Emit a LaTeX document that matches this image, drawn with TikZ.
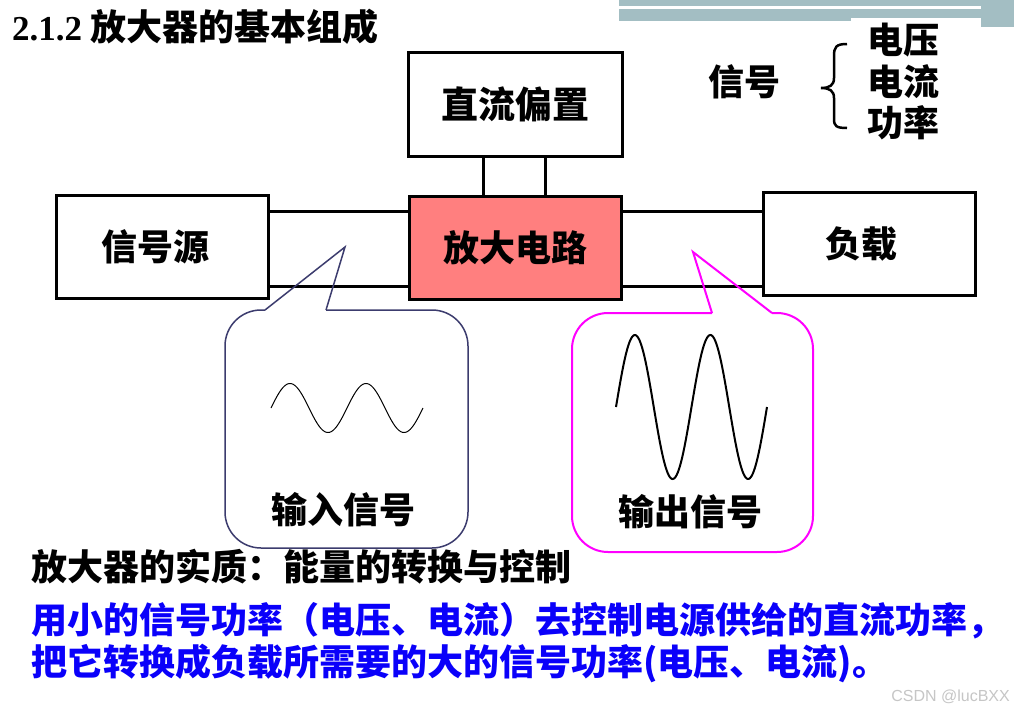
\documentclass[tikz,border=0pt]{standalone}
\usepackage{fontspec}
\setmainfont{Liberation Serif}
\newfontfamily\cjk{Noto Sans CJK SC}
\newfontfamily\wmfont{Liberation Sans}
\usepackage{xcolor}
\usepackage{tikz}

\definecolor{ampred}{RGB}{255,127,127}
\definecolor{barblue}{RGB}{163,190,195}
\definecolor{callnavy}{RGB}{60,60,110}
\definecolor{callpink}{RGB}{255,0,255}
\definecolor{noteblue}{RGB}{10,0,250}
\newcommand{\cnbig}{\fontsize{36}{40}\selectfont\cjk\bfseries}

\begin{document}
\begin{tikzpicture}[x=1pt, y=-1pt,
    blk/.style={draw, line width=3pt, minimum width=212pt, minimum height=103pt, inner sep=0pt, font=\cnbig},
    wire/.style={line width=3pt},
    callin/.style={draw=callnavy, line width=1.5pt},
    callout/.style={draw=callpink, line width=2pt},
    txt/.style={inner sep=0pt, font=\cnbig}]
  \fill[white] (0,0) rectangle (1014,715);
  \useasboundingbox (0,0) rectangle (1014,715);

  % Header bars
  \fill[barblue] (619,0) rectangle (1014,21);
  \fill[barblue] (981,0) rectangle (1014,27);
  \fill[white] (619,6) rectangle (981,9);
  \fill[white] (851,18) rectangle (981,22);

  % Title
  \node[anchor=west, inner sep=0pt] (title) at (12,27)
    {\fontsize{35}{40}\selectfont\bfseries 2.1.2 {\cjk\fontsize{36}{40}\selectfont 放大器的基本组成}};

  % Blocks
  \node[blk, minimum width=214pt, minimum height=104pt, font=\cnbig\fontsize{37}{40}\selectfont] (bias) at (515,104) {直流偏置};
  \node[blk] (src) at (162.5,246.5) {\hspace*{-15pt}信号源};
  \node[blk, fill=ampred] (amp) at (515,248) {放大电路};
  \node[blk] (load) at (869.5,244) {\hspace*{-16pt}负载};

  % Wires
  \coordinate (ampTL) at ([yshift=-16pt]amp.north west);
  \coordinate (ampBL) at ([yshift=14.5pt]amp.south west);
  \coordinate (ampTR) at ([yshift=-16pt]amp.north east);
  \coordinate (ampBR) at ([yshift=14.5pt]amp.south east);
  \draw[wire] (ampTL -| src.east) -- (ampTL);
  \draw[wire] (ampBL -| src.east) -- (ampBL);
  \draw[wire] (ampTR) -- (ampTR -| load.west);
  \draw[wire] (ampBR) -- (ampBR -| load.west);
  \coordinate (biasL) at ([xshift=-32pt]bias.south);
  \coordinate (biasR) at ([xshift=30pt]bias.south);
  \draw[wire] (biasL) -- (biasL |- amp.north);
  \draw[wire] (biasR) -- (biasR |- amp.north);

  % Input callout
  \draw[callin, rounded corners=36pt] (326,310) -- (468,310) -- (468,548) -- (225,548) -- (225,310) -- (265,310);
  \draw[callin] (265,310) -- (345,247) -- (326,310);
  \draw[line width=1pt, domain=0:152, samples=120, smooth] plot ({\x+271}, {408-24.5*sin(4.7368*\x)});
  \node[txt] (inlbl) at (343,510) {输入信号};

  % Output callout
  \draw[callout, rounded corners=36pt] (772,313) -- (813,313) -- (813,552) -- (572,552) -- (572,313) -- (712,313);
  \draw[callout] (712,313) -- (693,252) -- (772,313);
  \draw[line width=2pt, domain=0:151, samples=150, smooth] plot ({\x+616}, {407-72*sin(4.7682*\x)});
  \node[txt] (outlbl) at (690,512) {输出信号};

  % Signal kinds
  \node[txt] (sig) at (744,82) {信号};
  \node[txt] (volt) at (903,40) {电压};
  \node[txt] (cur) at (903,82) {电流};
  \node[txt] (pow) at (903,123) {功率};
  \draw[line width=2.5pt] (847,44) .. controls (836,44) and (834,47) .. (834,56) -- (834,78)
    .. controls (834,85) and (830,88) .. (821,88) .. controls (830,88) and (834,91) .. (834,98)
    -- (834,119) .. controls (834,126) and (836,128) .. (847,128);

  % Notes
  \node[txt, anchor=west] (essence) at (31,567) {放大器的实质：能量的转换与控制};
  \node[txt, anchor=west, text=noteblue] (note1) at (31,621) {用小的信号功率（电压、电流）去控制电源供给的直流功率，};
  \node[txt, anchor=west, text=noteblue] (note2) at (31,663) {把它转换成负载所需要的大的信号功率(电压、电流)。};

  % Watermark
  \node[anchor=east, inner sep=0pt, text=gray!45, font=\wmfont\fontsize{16}{18}\selectfont] (mark) at (1010,697) {CSDN @lucBXX};
\end{tikzpicture}
\end{document}
